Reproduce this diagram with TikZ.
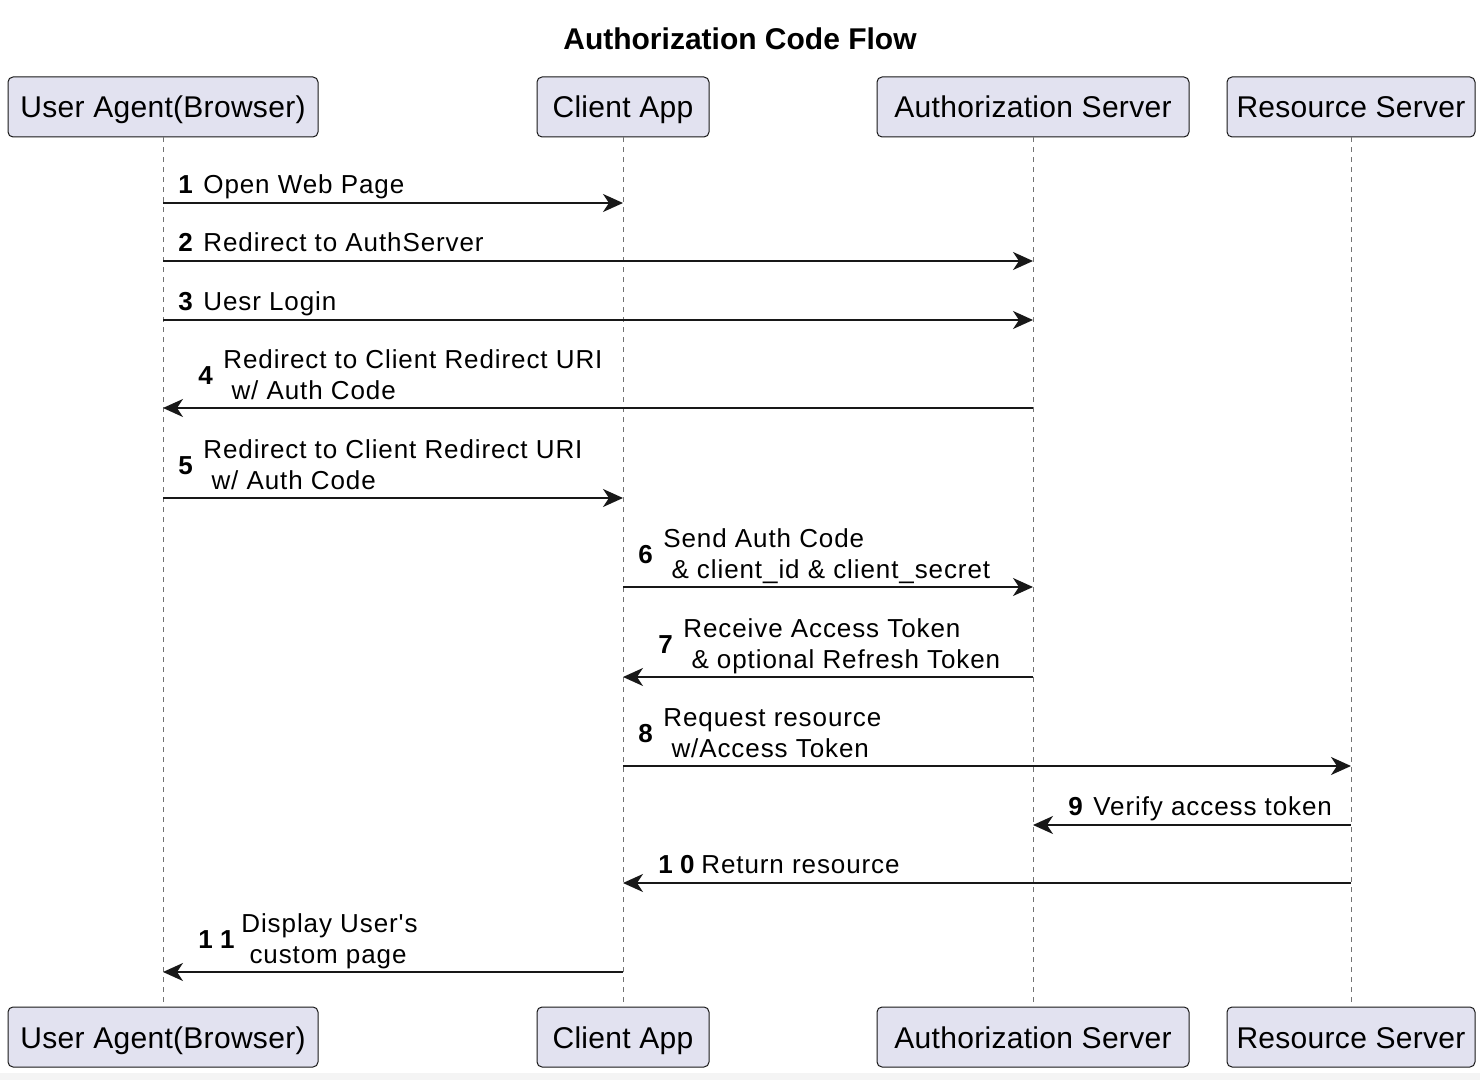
\documentclass[tikz,border=0pt]{standalone}
\usepackage{fontspec}
\setmainfont{Liberation Sans}[Ligatures=TeXOff]
\usetikzlibrary{arrows.meta}
\definecolor{partfill}{HTML}{E2E2F0}
\definecolor{partline}{HTML}{181818}
\definecolor{stripgray}{HTML}{F4F4F4}
\begin{document}
\begin{tikzpicture}[x=0.5pt,y=-0.5pt]
\tikzstyle{every node}+=[inner sep=0pt]
\tikzstyle{part}=[draw=partline, fill=partfill, rounded corners=2.5pt, line width=0.5pt, minimum height=30pt, text height=14pt, text depth=3pt, font=\fontsize{15}{18}\selectfont\addfontfeature{LetterSpace=1}]
\tikzstyle{life}=[black!55, line width=0.5pt, dash pattern=on 2.5pt off 2.5pt]
\tikzstyle{msg}=[partline, line width=1pt, -{Stealth[length=10pt,width=9pt,inset=3pt]}]
\tikzstyle{num}=[anchor=base west, font=\bfseries\fontsize{13}{15.5}\selectfont]
\tikzstyle{lbl}=[anchor=base west, align=left, font=\fontsize{13}{15.5}\selectfont\addfontfeature{LetterSpace=3.5}]
\useasboundingbox (0,0) rectangle (1480,1080);
\fill [stripgray] (0,1073) rectangle (1480,1080);
\node [font=\bfseries\fontsize{15}{18}\selectfont] (title) at (740,39) {Authorization Code Flow};
% participants
\node [part, minimum width=155pt] (ua) at (163,107) {User Agent(Browser)};
\node [part, minimum width=86pt] (ca) at (623,107) {Client App};
\node [part, minimum width=156pt] (as) at (1033,107) {Authorization Server};
\node [part, minimum width=124pt] (rs) at (1351,107) {Resource Server};
\node [part, minimum width=155pt] (ua2) at (163,1037) {User Agent(Browser)};
\node [part, minimum width=86pt] (ca2) at (623,1037) {Client App};
\node [part, minimum width=156pt] (as2) at (1033,1037) {Authorization Server};
\node [part, minimum width=124pt] (rs2) at (1351,1037) {Resource Server};
\draw [life] (ua) -- (ua2);
\draw [life] (ca) -- (ca2);
\draw [life] (as) -- (as2);
\draw [life] (rs) -- (rs2);
% messages
\draw [msg] (ua |- 0,203) -- (ca |- 0,203);
\node [num] (n1) at (178,194) {1};
\node [lbl] (m1) at (203,194) {Open Web Page};
\draw [msg] (ua |- 0,261) -- (as |- 0,261);
\node [num] (n2) at (178,252) {2};
\node [lbl] (m2) at (203,252) {Redirect to AuthServer};
\draw [msg] (ua |- 0,320) -- (as |- 0,320);
\node [num] (n3) at (178,311) {3};
\node [lbl] (m3) at (203,311) {Uesr Login};
\draw [msg] (as |- 0,408) -- (ua |- 0,408);
\node [num] (n4) at (198,384.5) {4};
\node [lbl] (m4) at (223,399.5) {Redirect to Client Redirect URI\\\ w/ Auth Code};
\draw [msg] (ua |- 0,498) -- (ca |- 0,498);
\node [num] (n5) at (178,474.5) {5};
\node [lbl] (m5) at (203,489.5) {Redirect to Client Redirect URI\\\ w/ Auth Code};
\draw [msg] (ca |- 0,587) -- (as |- 0,587);
\node [num] (n6) at (638,563.5) {6};
\node [lbl] (m6) at (663,578.5) {Send Auth Code\\\ \& client\_id \& client\_secret};
\draw [msg] (as |- 0,677) -- (ca |- 0,677);
\node [num] (n7) at (658,653.5) {7};
\node [lbl] (m7) at (683,668.5) {Receive Access Token\\\ \& optional Refresh Token};
\draw [msg] (ca |- 0,766) -- (rs |- 0,766);
\node [num] (n8) at (638,742.5) {8};
\node [lbl] (m8) at (663,757.5) {Request resource\\\ w/Access Token};
\draw [msg] (rs |- 0,825) -- (as |- 0,825);
\node [num] (n9) at (1068,816) {9};
\node [lbl] (m9) at (1093,816) {Verify access token};
\draw [msg] (rs |- 0,883) -- (ca |- 0,883);
\node [num] (n10) at (658,874) {1 0};
\node [lbl] (m10) at (701,874) {Return resource};
\draw [msg] (ca |- 0,972) -- (ua |- 0,972);
\node [num] (n11) at (198,948.5) {1 1};
\node [lbl] (m11) at (241,963.5) {Display User's\\\ custom page};
\end{tikzpicture}
\end{document}
